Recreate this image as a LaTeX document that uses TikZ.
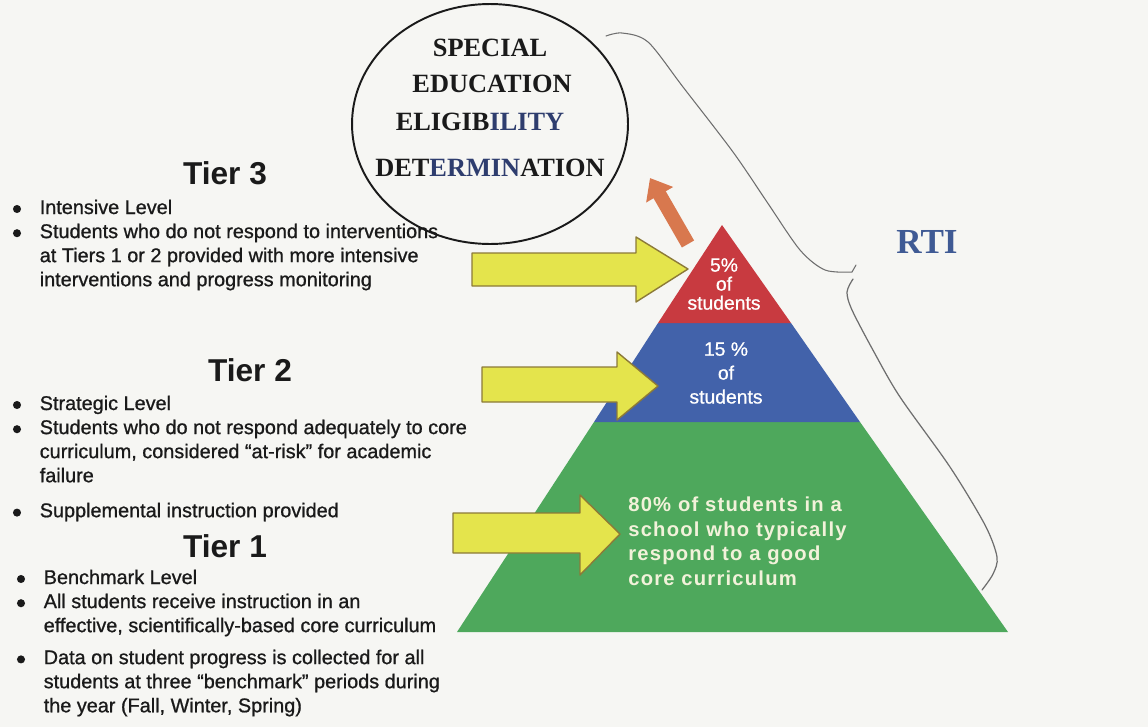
\documentclass[tikz,border=0pt]{standalone}
\usepackage{fontspec}
\setmainfont{Liberation Sans}
\newfontfamily\spedfont{Liberation Serif}
\usetikzlibrary{shapes.geometric,positioning,arrows.meta,calc}

\definecolor{paper}{HTML}{F6F6F3}
\definecolor{inkblack}{HTML}{1A1A1A}
\definecolor{inknavy}{HTML}{2E3D6E}
\definecolor{tierred}{HTML}{C83A40}
\definecolor{tierblue}{HTML}{4262AA}
\definecolor{tiergreen}{HTML}{4EA85C}
\definecolor{arrowyellow}{HTML}{E4E44C}
\definecolor{arrowedge}{HTML}{8C7A38}
\definecolor{arroworange}{HTML}{D8784E}
\definecolor{rtiblue}{HTML}{3F5A94}
\definecolor{braceline}{HTML}{6E6E6E}
\definecolor{creamtext}{HTML}{F2F2DA}

\begin{document}
\begin{tikzpicture}[
  x=0.02cm, y=-0.02cm,
  tierhead/.style={font=\fontsize{18}{20}\selectfont\bfseries, text=inkblack, inner sep=0},
  bullets/.style={font=\fontsize{11.3}{13.7}\selectfont\addfontfeature{FakeBold=0.9}, text=inkblack, inner sep=0, anchor=base west},
  dot/.style={fill=inkblack},
  pct/.style={font=\fontsize{11}{10.8}\selectfont\addfontfeature{FakeBold=0.8}, text=white, inner sep=0, align=center},
  sped/.style={font=\spedfont\fontsize{15}{17}\selectfont\bfseries, text=inkblack, inner sep=0},
  yarrow/.style={fill=arrowyellow, draw=arrowedge, line width=0.8pt, line join=round},
  uparrow/.style={line width=8pt, arroworange, -{Triangle[length=11pt, width=17pt]}},
]
\useasboundingbox (0,0) rectangle (1148,727);
\fill[paper] (0,0) rectangle (1148,727);

% === Pyramid ===
\coordinate (apex) at (722,225);
\coordinate (redL) at (658,323);
\coordinate (redR) at (791,323);
\coordinate (blueL) at (594,422);
\coordinate (blueR) at (860,422);
\coordinate (baseL) at (457,632);
\coordinate (baseR) at (1008,632);
\fill[tiergreen] (blueL) -- (blueR) -- (baseR) -- (baseL) -- cycle;
\fill[tierblue] (redL) -- (redR) -- (blueR) -- (blueL) -- cycle;
\fill[tierred] (apex) -- (redR) -- (redL) -- cycle;

\node[pct] (top) at (724,284) {5\%\\of\\students};
\node[pct, font=\fontsize{11}{13.6}\selectfont\addfontfeature{FakeBold=0.8}] (mid) at (726,373) {15 \%\\of\\students};
\node[font=\fontsize{11.5}{13.9}\selectfont\bfseries\addfontfeature{LetterSpace=6}, text=creamtext,
  inner sep=0, align=left, anchor=base west] (low) at (628,585)
  {80\% of students in a\\school who typically\\respond to a good\\core curriculum};

% === Yellow arrows ===
\draw[yarrow] (472,253) -- (636,253) -- (636,237) -- (688,269) -- (636,302) -- (636,286) -- (472,286) -- cycle;
\draw[yarrow] (482,367) -- (617,367) -- (617,352) -- (658,386) -- (617,420) -- (617,402) -- (482,402) -- cycle;
\draw[yarrow] (453,513) -- (580,513) -- (580,495) -- (620,534) -- (580,575) -- (580,553) -- (453,553) -- cycle;

% === Special education circle ===
\node[ellipse, draw=inkblack, line width=1.1pt, minimum width=5.52cm, minimum height=4.8cm] (circ) at (490,124) {};
\node[sped] (spA) at (490,48) {SPECIAL};
\node[sped] (spB) at (492,84) {EDUCATION};
\node[sped] (spC) at (480,122) {ELIGIB\textcolor{inknavy}{ILITY}};
\node[sped] (spD) at (490,168) {DET\textcolor{inknavy}{ERMIN}ATION};

\coordinate (otail) at (688,244);
\coordinate (otip) at (650,178);
\draw[uparrow] (otail) -- (otip);

% === RTI brace ===
\draw[braceline, line width=0.6pt, line cap=round]
  plot[smooth] coordinates {(606,36) (622,33) (648,42) (683,87) (733,152) (767,202) (800,250) (825,270) (852,272)}
  -- (856,265);
\draw[braceline, line width=0.7pt, line cap=round]
  plot[smooth] coordinates {(853,279) (847,292) (852,310) (874,352) (900,397) (950,467) (985,525) (997,557) (993,574) (982,590)};
\node[font=\spedfont\fontsize{20}{22}\selectfont\bfseries, text=rtiblue, inner sep=0] (rti) at (927,242) {RTI};

% === Tier descriptions ===
\node[tierhead] (tier3) at (225,173) {Tier 3};
\node[bullets] (list3) at (12,214) {\begin{tabular}[t]{@{}p{15.6pt}@{}l@{}}
   & Intensive Level\\
   & Students who do not respond to interventions\\
   & at Tiers 1 or 2 provided with more intensive\\
   & interventions and progress monitoring
\end{tabular}};
\foreach \dy in {0,24.2}
  \fill[dot] ($(list3.base west)+(5,\dy-5)$) circle[radius=2.3pt];

\node[tierhead] (tier2) at (250,370) {Tier 2};
\node[bullets] (list2) at (12,410) {\begin{tabular}[t]{@{}p{15.6pt}@{}l@{}}
   & Strategic Level\\
   & Students who do not respond adequately to core\\
   & curriculum, considered ``at-risk'' for academic\\
   & failure\\[6.2pt]
   & Supplemental instruction provided
\end{tabular}};
\foreach \dy in {0,24.2,107.6}
  \fill[dot] ($(list2.base west)+(5,\dy-5)$) circle[radius=2.3pt];

\node[tierhead] (tier1) at (225,546) {Tier 1};
\node[bullets] (list1) at (16,584) {\begin{tabular}[t]{@{}p{15.6pt}@{}l@{}}
   & Benchmark Level\\
   & All students receive instruction in an\\
   & effective, scientifically-based core curriculum\\[4.5pt]
   & Data on student progress is collected for all\\
   & students at three ``benchmark'' periods during\\
   & the year (Fall, Winter, Spring)
\end{tabular}};
\foreach \dy in {0,24.2,80.4}
  \fill[dot] ($(list1.base west)+(5,\dy-5)$) circle[radius=2.3pt];

\end{tikzpicture}
\end{document}
